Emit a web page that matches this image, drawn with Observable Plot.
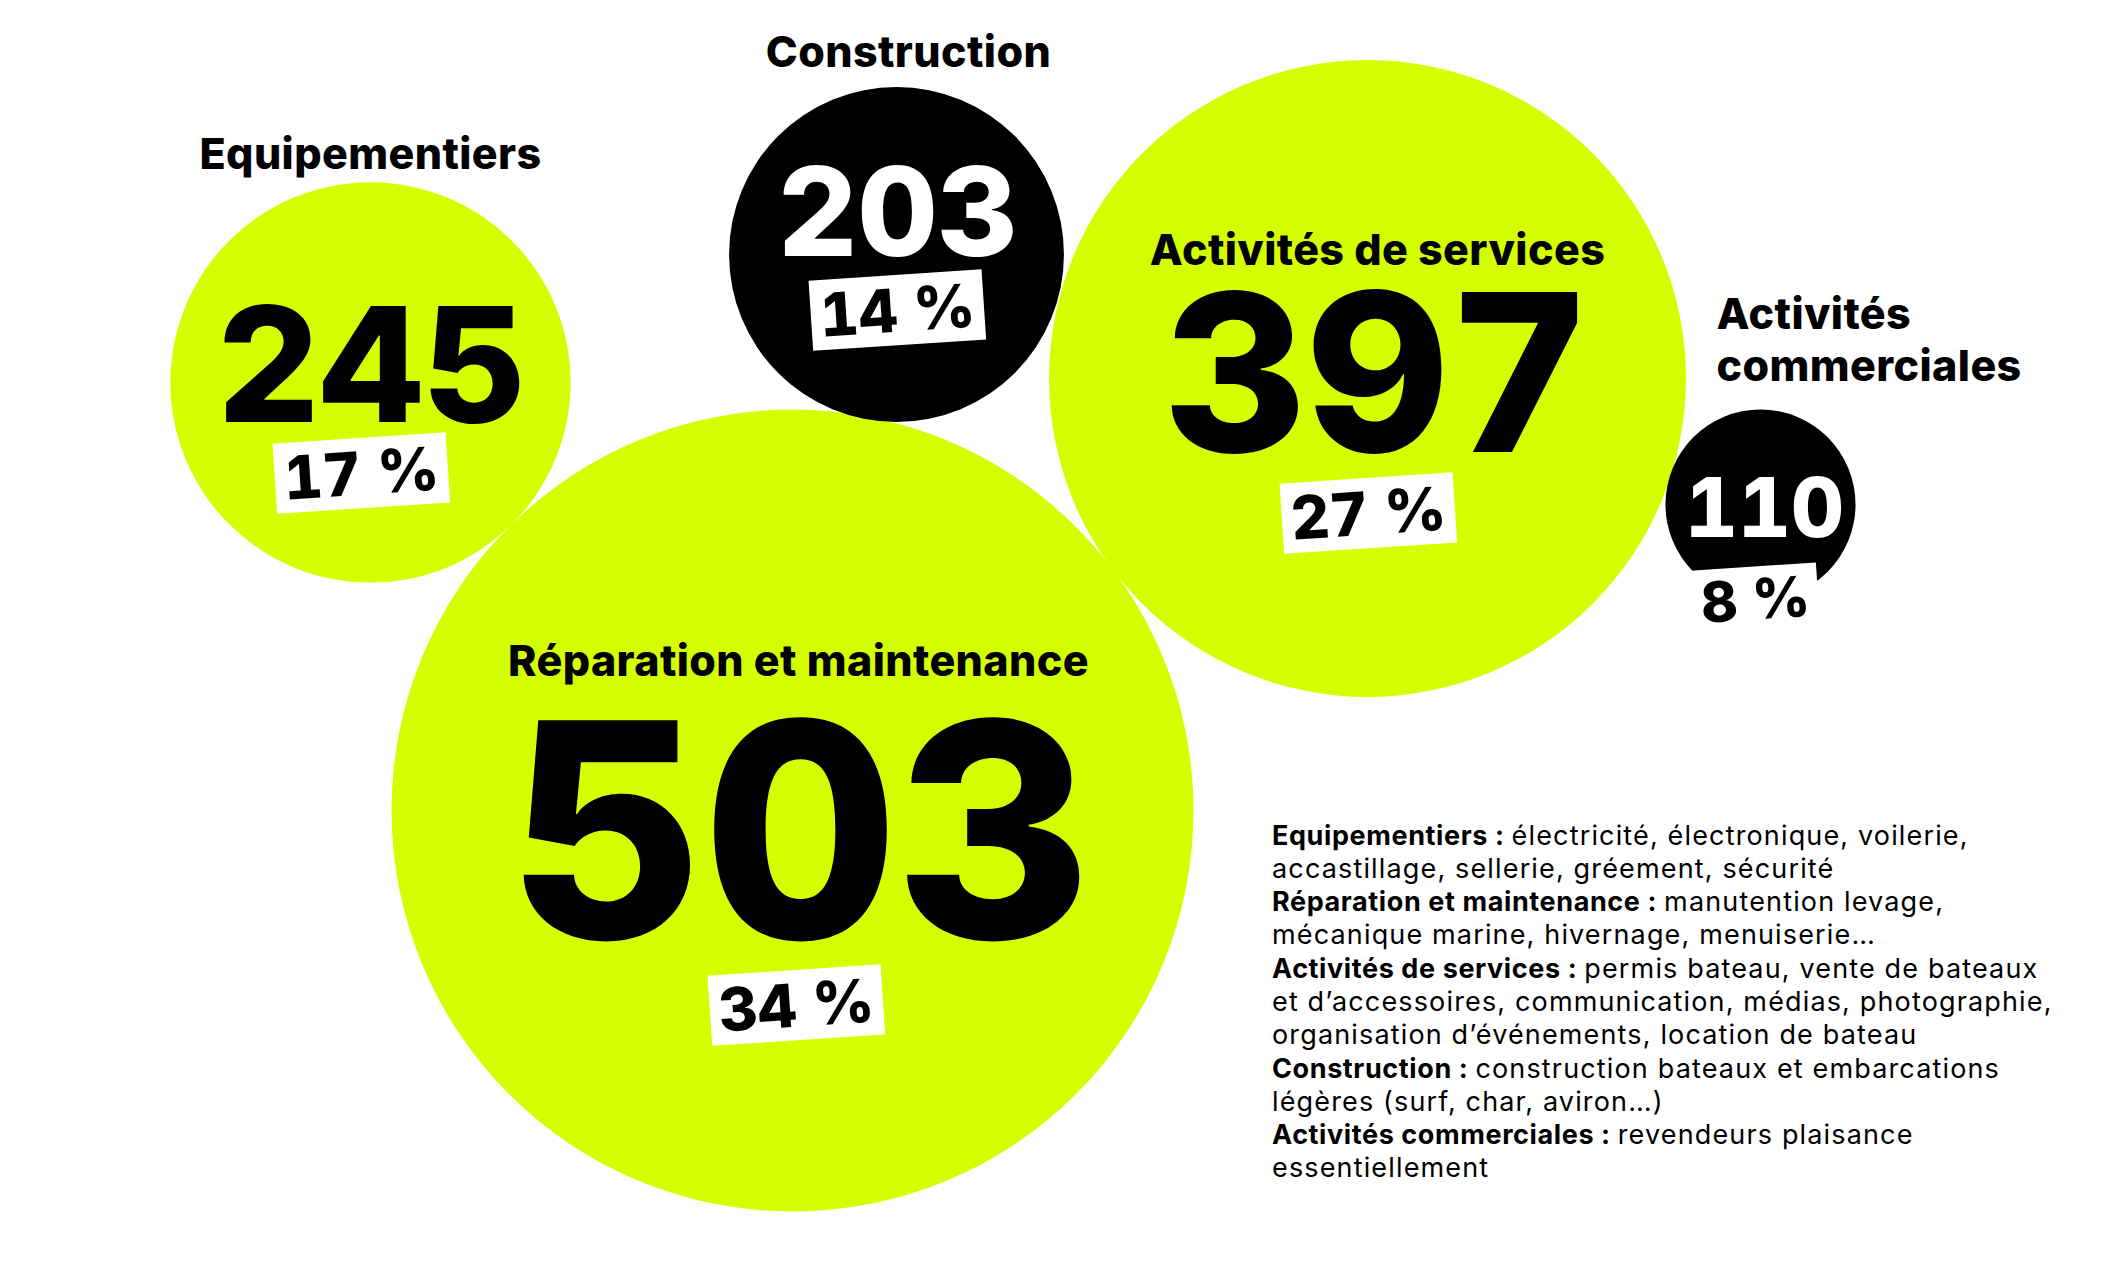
<!DOCTYPE html>
<html><head><meta charset="utf-8">
<script src="https://cdn.jsdelivr.net/npm/d3@7"></script>
<script src="https://cdn.jsdelivr.net/npm/@observablehq/plot@0.6"></script>
<style>
html,body{margin:0;padding:0;background:#fff;}
#wrap{position:relative;width:2122px;height:1282px;overflow:hidden;}
#wrap svg{position:absolute;left:0;top:0;}
#legend{position:absolute;left:1272px;top:818.5px;font-family:Inter,sans-serif;font-size:27px;line-height:33.3px;color:#000;}
#legend .ln{white-space:nowrap;height:33.3px;}
#legend .b{font-weight:700;letter-spacing:0.6px;}
#legend .r{font-weight:400;letter-spacing:1.15px;}
</style></head><body><div id="wrap"><div id="legend"></div></div>
<script>
// ---- data ----
const categories = ["Equipementiers", "Réparation et maintenance", "Activités de services", "Construction", "Activités commerciales"];
const values = [245, 503, 397, 203, 110];
const percents = ["17 %", "34 %", "27 %", "14 %", "8 %"];
const descriptions = [
  "électricité, électronique, voilerie,\naccastillage, sellerie, gréement, sécurité",
  "manutention levage,\nmécanique marine, hivernage, menuiserie…",
  "permis bateau, vente de bateaux\net d’accessoires, communication, médias, photographie,\norganisation d’événements, location de bateau",
  "construction bateaux et embarcations\nlégères (surf, char, aviron…)",
  "revendeurs plaisance\nessentiellement"
];

// ---- layout (chart space, not data) ----
const layout = [
  {cx: 370,  cy: 382, lx: 370,  ly: 168, nx: 371,  ny: 421, ns: 160, px: 361,  py: 475,  ps: 60, dark: false, side: false},
  {cx: 792,  cy: 810, lx: 798,  ly: 675, nx: 800,  ny: 938, ns: 300, px: 796,  py: 1007, ps: 60, dark: false, side: false},
  {cx: 1367, cy: 378, lx: 1377, ly: 264, nx: 1377, ny: 451, ns: 220, px: 1368, py: 515,  ps: 60, dark: false, side: false},
  {cx: 896,  cy: 254, lx: 908,  ly: 66,  nx: 897,  ny: 255, ns: 124, px: 897,  py: 312,  ps: 60, dark: true,  side: false},
  {cx: 1760, cy: 504, lx: 1716, ly: 380, nx: 1764, ny: 536, ns: 82,  px: 1755, py: 601,  ps: 56, dark: true,  side: true}
];
const GREEN = "#d4ff00";
const rows = categories.map((c, i) => ({category: c, value: values[i], pct: percents[i], ...layout[i]}));

const chart = Plot.plot({
  width: 2122, height: 1282, margin: 0,
  x: {domain: [0, 2122], range: [0, 2122], axis: null},
  y: {domain: [0, 1282], range: [0, 1282], axis: null},
  r: {type: "linear", domain: [0, 503], range: [9.4, 401]},
  style: {fontFamily: "Inter, sans-serif", background: "transparent", overflow: "visible"},
  marks: [
    Plot.dot(rows.filter(d => !d.dark), {x: "cx", y: "cy", r: "value", fill: GREEN, stroke: null}),
    Plot.dot(rows.filter(d => d.dark), {x: "cx", y: "cy", r: "value", fill: "#000", stroke: null}),
    Plot.text(rows.filter(d => !d.side), {x: "lx", y: "ly", text: "category", fontSize: 43, fontWeight: 800, lineAnchor: "bottom", fill: "#000"}),
    Plot.text(rows.filter(d => d.side), {x: "lx", y: "ly", text: d => d.category.replace(" ", "\n"), fontSize: 43, fontWeight: 800, lineAnchor: "bottom", textAnchor: "start", lineHeight: 1.19, fill: "#000"}),
    Plot.text(rows.filter(d => !d.dark), {x: "nx", y: "ny", text: d => String(d.value), fontSize: "ns", fontWeight: 800, fontVariant: "tabular-nums", lineAnchor: "bottom", fill: "#000"}),
    Plot.text(rows.filter(d => d.dark), {x: "nx", y: "ny", text: d => String(d.value), fontSize: "ns", fontWeight: 800, fontVariant: "tabular-nums", lineAnchor: "bottom", fill: "#fff"}),
    Plot.text(rows, {x: "px", y: "py", text: "pct", fontSize: "ps", fontWeight: 800, fontVariant: "tabular-nums", rotate: -3.8, fill: "#000"})
  ]
});
document.getElementById("wrap").insertBefore(chart, document.getElementById("legend"));

// slight tracking on the category labels
chart.querySelectorAll('g[aria-label="text"]').forEach((g, i) => {
  if (i < 2) g.setAttribute("letter-spacing", "0.4");
});

// white label boxes behind percentages
const groups = chart.querySelectorAll('g[aria-label="text"]');
const pg = groups[groups.length - 1];
pg.querySelectorAll("text").forEach(t => {
  const bb = t.getBBox();
  const fs = parseFloat(getComputedStyle(t).fontSize);
  const h = 1.17 * fs;
  const rect = document.createElementNS("http://www.w3.org/2000/svg", "rect");
  rect.setAttribute("x", bb.x - 0.15 * fs);
  rect.setAttribute("width", bb.width + 0.3 * fs);
  rect.setAttribute("y", -0.04 * fs - h / 2);
  rect.setAttribute("height", h);
  rect.setAttribute("fill", "#fff");
  const tr = t.getAttribute("transform");
  if (tr) rect.setAttribute("transform", tr);
  t.parentNode.insertBefore(rect, t);
});

// legend: one element per line
const legend = d3.select("#legend");
categories.forEach((c, i) => {
  descriptions[i].split("\n").forEach((line, j) => {
    const ln = legend.append("div").attr("class", "ln");
    if (j === 0) ln.append("span").attr("class", "b").text(c + " : ");
    ln.append("span").attr("class", "r").text(line);
  });
});
</script>
</body></html>
